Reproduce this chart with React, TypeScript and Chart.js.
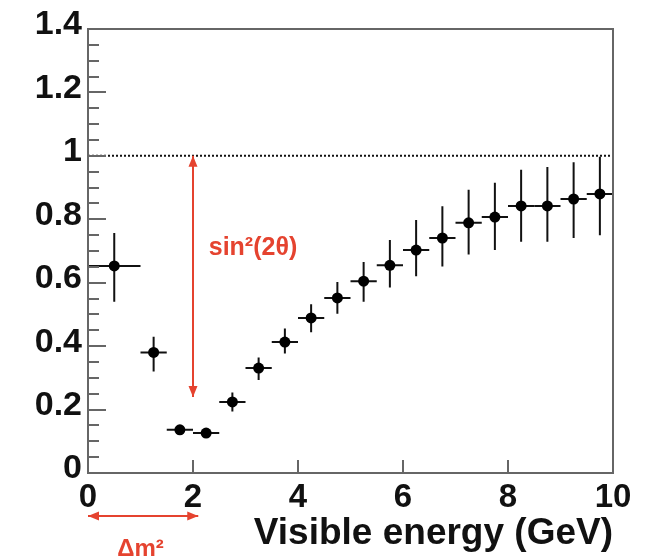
import React, { useEffect, useRef } from 'react';
import { Chart, registerables } from 'chart.js';

Chart.register(...registerables);

// ---- data ----
const binCenters = [0.5, 1.25, 1.75, 2.25, 2.75, 3.25, 3.75, 4.25, 4.75, 5.25, 5.75, 6.25, 6.75, 7.25, 7.75, 8.25, 8.75, 9.25, 9.75];
const binHalfWidths = [0.5, 0.25, 0.25, 0.25, 0.25, 0.25, 0.25, 0.25, 0.25, 0.25, 0.25, 0.25, 0.25, 0.25, 0.25, 0.25, 0.25, 0.25, 0.25];
const ratio = [0.653, 0.38, 0.136, 0.126, 0.224, 0.331, 0.413, 0.489, 0.552, 0.605, 0.655, 0.703, 0.741, 0.789, 0.807, 0.842, 0.842, 0.864, 0.88];
const errUp = [0.104, 0.05, 0.015, 0.015, 0.03, 0.033, 0.043, 0.043, 0.05, 0.06, 0.08, 0.095, 0.1, 0.104, 0.108, 0.114, 0.123, 0.116, 0.117];
const errDown = [0.113, 0.06, 0.015, 0.015, 0.03, 0.038, 0.036, 0.045, 0.05, 0.065, 0.07, 0.083, 0.09, 0.1, 0.104, 0.113, 0.113, 0.123, 0.13];

const referenceLine = [
  { x: 0, y: 1 },
  { x: 10, y: 1 },
];
const sinArrowX = 2;
const sinArrowY = [1.0, 0.24];
const dmArrowX = [0, 2.1];
const sinLabel = 'sin²(2θ)';
const sinLabelPos = { x: 2.3, y: 0.71 };
const dmLabel = 'Δm²';
const dmLabelX = 1.0;
const xTitle = 'Visible energy (GeV)';
const yRange = [0, 1.4];
const xRange = [0, 10];
const yMajorStep = 0.2;
const yMinorStep = 0.05;
const xMajorStep = 2;

const RED = '#e5432f';
const FONT = "'Liberation Sans', Arial, Helvetica, sans-serif";

function arrowHead(ctx: CanvasRenderingContext2D, tx: number, ty: number, fx: number, fy: number) {
  const ang = Math.atan2(ty - fy, tx - fx);
  const len = 11;
  const w = 4.5;
  ctx.beginPath();
  ctx.moveTo(tx, ty);
  ctx.lineTo(tx - len * Math.cos(ang) + w * Math.sin(ang), ty - len * Math.sin(ang) - w * Math.cos(ang));
  ctx.lineTo(tx - len * Math.cos(ang) - w * Math.sin(ang), ty - len * Math.sin(ang) + w * Math.cos(ang));
  ctx.closePath();
  ctx.fill();
}

function doubleArrow(ctx: CanvasRenderingContext2D, x1: number, y1: number, x2: number, y2: number) {
  ctx.beginPath();
  ctx.moveTo(x1, y1);
  ctx.lineTo(x2, y2);
  ctx.stroke();
  arrowHead(ctx, x1, y1, x2, y2);
  arrowHead(ctx, x2, y2, x1, y1);
}

const decor = {
  id: 'decor',
  beforeDatasetsDraw(chart: any) {
    const { ctx, scales } = chart;
    const x = scales.x;
    const y = scales.y;
    ctx.save();
    ctx.strokeStyle = '#111';
    ctx.lineWidth = 2;
    binCenters.forEach((c, i) => {
      const px = x.getPixelForValue(c);
      const py = y.getPixelForValue(ratio[i]);
      ctx.beginPath();
      ctx.moveTo(x.getPixelForValue(c - binHalfWidths[i]), py);
      ctx.lineTo(x.getPixelForValue(c + binHalfWidths[i]), py);
      ctx.moveTo(px, y.getPixelForValue(ratio[i] + errUp[i]));
      ctx.lineTo(px, y.getPixelForValue(ratio[i] - errDown[i]));
      ctx.stroke();
    });
    ctx.restore();
  },
  afterDraw(chart: any) {
    const { ctx, chartArea: a, scales } = chart;
    const x = scales.x;
    const y = scales.y;
    ctx.save();
    // frame
    ctx.strokeStyle = '#666';
    ctx.lineWidth = 2;
    ctx.strokeRect(a.left, a.top, a.right - a.left, a.bottom - a.top);
    // y ticks (inside)
    ctx.beginPath();
    const nMinor = Math.round((yRange[1] - yRange[0]) / yMinorStep);
    const ratioMaj = Math.round(yMajorStep / yMinorStep);
    for (let k = 0; k <= nMinor; k++) {
      const v = yRange[0] + k * yMinorStep;
      const py = Math.round(y.getPixelForValue(v));
      const len = k % ratioMaj === 0 ? 18 : 11;
      ctx.moveTo(a.left, py);
      ctx.lineTo(a.left + len, py);
    }
    // x ticks (inside)
    for (let v = xRange[0]; v <= xRange[1] + 1e-9; v += xMajorStep) {
      const px = Math.round(x.getPixelForValue(v));
      ctx.moveTo(px, a.bottom);
      ctx.lineTo(px, a.bottom - 13);
    }
    ctx.stroke();

    // red annotations
    ctx.strokeStyle = RED;
    ctx.fillStyle = RED;
    ctx.lineWidth = 2;
    const ax = x.getPixelForValue(sinArrowX);
    doubleArrow(ctx, ax, y.getPixelForValue(sinArrowY[0]), ax, y.getPixelForValue(sinArrowY[1]));
    const hy = a.bottom + 43;
    doubleArrow(ctx, x.getPixelForValue(dmArrowX[0]), hy, x.getPixelForValue(dmArrowX[1]), hy);

    ctx.font = `bold 25px ${FONT}`;
    ctx.textAlign = 'left';
    ctx.textBaseline = 'middle';
    ctx.fillText(sinLabel, x.getPixelForValue(sinLabelPos.x), y.getPixelForValue(sinLabelPos.y));
    ctx.font = `bold 24px ${FONT}`;
    ctx.textAlign = 'center';
    ctx.fillText(dmLabel, x.getPixelForValue(dmLabelX), a.bottom + 76);
    ctx.restore();
  },
};

export default function App() {
  const ref = useRef<HTMLCanvasElement | null>(null);

  useEffect(() => {
    if (!ref.current) return;
    const points = binCenters.map((c, i) => ({ x: c, y: ratio[i] }));
    const chart = new Chart(ref.current, {
      type: 'scatter',
      data: {
        datasets: [
          {
            data: points,
            pointRadius: 5.5,
            pointBackgroundColor: '#000',
            pointBorderColor: '#000',
            pointBorderWidth: 0,
            showLine: false,
          },
          {
            data: referenceLine,
            showLine: true,
            borderColor: '#111',
            borderDash: [2, 2],
            borderWidth: 2,
            pointRadius: 0,
          },
        ],
      },
      options: {
        responsive: false,
        animation: false,
        devicePixelRatio: 1,
        layout: { padding: { left: 0, top: 29, right: 32, bottom: 0 } },
        plugins: { legend: { display: false }, tooltip: { enabled: false } },
        scales: {
          x: {
            type: 'linear',
            min: xRange[0],
            max: xRange[1],
            grid: { display: false, drawTicks: false },
            border: { display: false },
            ticks: {
              stepSize: xMajorStep,
              maxRotation: 0,
              autoSkip: false,
              padding: 5,
              color: '#111',
              font: { family: FONT, size: 33, weight: 'bold' },
            },
            title: {
              display: true,
              text: xTitle,
              align: 'end',
              color: '#111',
              font: { family: FONT, size: 37, weight: 'bold', lineHeight: 1 },
              padding: { top: 0, bottom: 6 },
            },
            afterFit(s: any) {
              s.height = 85;
            },
          },
          y: {
            type: 'linear',
            min: yRange[0],
            max: yRange[1],
            grid: { display: false, drawTicks: false },
            border: { display: false },
            ticks: {
              stepSize: yMajorStep,
              padding: 6,
              labelOffset: -4,
              color: '#111',
              font: { family: FONT, size: 34, weight: 'bold' },
              callback: (v: any) => String(Math.round(Number(v) * 10) / 10),
            },
            afterFit(s: any) {
              s.width = 88;
            },
          },
        },
      },
      plugins: [decor],
    });
    return () => chart.destroy();
  }, []);

  return (
    <div style={{ position: 'absolute', left: 0, top: 0, width: 645, height: 558, background: '#fff' }}>
      <canvas ref={ref} width={645} height={558} style={{ display: 'block' }} />
    </div>
  );
}
